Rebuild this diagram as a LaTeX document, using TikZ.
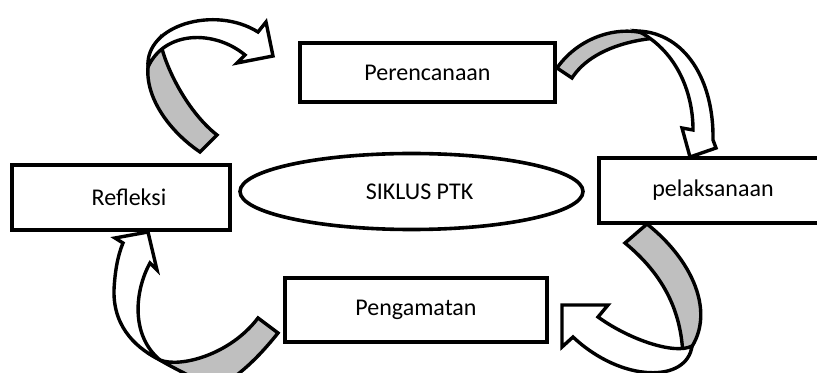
\documentclass[tikz,border=0pt]{standalone}
\usepackage{fontspec}
\setmainfont{Carlito}
\usetikzlibrary{shapes.geometric}

\begin{document}
\begin{tikzpicture}[x=0.5pt, y=-0.5pt,
  stage/.style={draw, fill=white, line width=2pt, font=\fontsize{12}{14}\selectfont},
  band/.style={draw, line width=1.7pt, fill=black!25},
  sheet/.style={draw, line width=1.7pt, fill=white}]
  % Help lines
  %\draw[help lines, step=50, gray!50] (0,0) grid (817,373);
  \useasboundingbox (0,0) rectangle (817,373);
  \node[stage, minimum width=127.5pt, minimum height=29.5pt] (plan) at (427.5, 72.5) {Perencanaan};
  \node[stage, minimum width=114pt, minimum height=32.5pt] (act) at (713, 190.5) {pelaksanaan};
  \node[stage, minimum width=131pt, minimum height=32pt] (observe) at (416, 310) {Pengamatan};
  \node[stage, minimum width=109pt, minimum height=32.5pt] (reflect) at (121, 197.5) {\hspace{8pt}Refleksi};
  \node[draw, ellipse, line width=1.8pt, minimum width=171.5pt, minimum height=38pt,
    font=\fontsize{12}{14}\selectfont] (cycle) at (411.5, 191.5) {\hspace{8pt}SIKLUS PTK};
  % Refleksi -> Perencanaan
  \draw[band] (200,152) .. controls (160,125) and (130,75) .. (160,38)
    .. controls (162,60) and (185,110) .. (217,135) -- cycle;
  \draw[sheet] (148,67) .. controls (145,25) and (215,5) .. (258,32) -- (266,22) -- (273,56)
    -- (237,63) -- (245,55) .. controls (215,30) and (165,30) .. (148,67) -- cycle;
  % Perencanaan -> pelaksanaan
  \draw[band] (557,68) .. controls (580,35) and (625,22) .. (657,38)
    .. controls (630,40) and (590,50) .. (572,78) -- cycle;
  \draw[sheet] (638,31) .. controls (685,33) and (714,80) .. (713,140) -- (716,148) -- (690,157)
    -- (682,128) -- (693,130) .. controls (693,90) and (675,50) .. (638,31) -- cycle;
  % pelaksanaan -> Pengamatan
  \draw[band] (647,224) .. controls (695,262) and (720,320) .. (683,358)
    .. controls (682,320) and (670,280) .. (625,243) -- cycle;
  \draw[sheet] (692,346) .. controls (687,383) and (622,383) .. (573,337) -- (562,347) -- (562,305)
    -- (608,305) -- (598,317) .. controls (630,340) and (675,355) .. (692,346) -- cycle;
  % Pengamatan -> Refleksi
  \draw[band] (258,318) -- (278,333) .. controls (258,358) and (240,375) .. (215,390)
    .. controls (200,380) and (180,372) .. (160,360) .. controls (180,368) and (230,355) .. (258,318) -- cycle;
  \draw[sheet] (160,360) .. controls (140,350) and (113,330) .. (114,290) .. controls (115,270) and (118,255) .. (123,243)
    -- (115,238) -- (148,232) -- (157,270) -- (150,263) .. controls (135,290) and (130,335) .. (160,360) -- cycle;
\end{tikzpicture}
\end{document}
